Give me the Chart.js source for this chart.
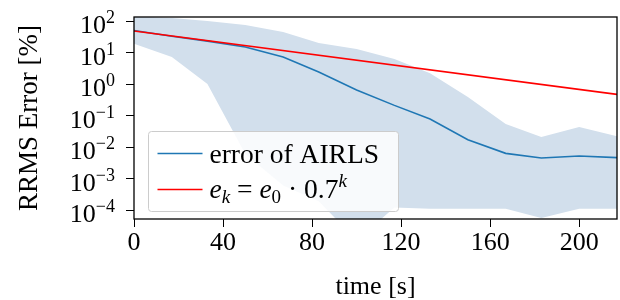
<!DOCTYPE html>
<html>
<head>
<meta charset="utf-8">
<script src="https://cdn.jsdelivr.net/npm/chart.js@4.4.0/dist/chart.umd.min.js"></script>
<style>
  html, body { margin: 0; padding: 0; background: #fff; }
  #wrap { width: 620px; height: 300px; }
</style>
</head>
<body>
<div id="wrap"><canvas id="errChart" width="620" height="300"></canvas></div>
<script>
// time steps [s]
const times = [0, 17, 33, 50, 67, 83, 100, 117, 133, 150, 167, 183, 200, 217];
// RRMS error of AIRLS [%] (mean, upper and lower envelope)
const errMean  = [50, 33, 23, 15, 7.2, 2.4, 0.65, 0.21, 0.078, 0.017, 0.0063, 0.0045, 0.0052, 0.0046];
const errUpper = [140, 125, 100, 75, 45, 20, 13, 6.2, 2.2, 0.39, 0.054, 0.021, 0.043, 0.022];
const errLower = [19, 7.2, 1.0, 0.006, 0.0006, 0.00019, 0.000011, 0.00012, 0.00011, 0.00011, 0.00011, 0.000056, 0.00011, 0.00011];
// reference rate line e_k = e0 * 0.7^k (end points)
const rateTimes = [0, 217];
const rateVals  = [48, 0.47];

const xTicks = [0, 40, 80, 120, 160, 200];
const yTicks = [1e-4, 1e-3, 1e-2, 1e-1, 1, 10, 100];
const yExps  = ['−4', '−3', '−2', '−1', '0', '1', '2'];

const FONT = "'Liberation Serif', 'Times New Roman', serif";

function pts(xs, ys) {
    return xs.map((x, i) => ({ x: x, y: ys[i] }));
}

// draw a row of text pieces (for math-like labels)
function drawRuns(ctx, x, y, runs) {
    runs.forEach(r => {
        ctx.font = (r.italic ? 'italic ' : '') + r.size + 'px ' + FONT;
        ctx.fillText(r.t, x, y + (r.dy || 0));
        x += ctx.measureText(r.t).width;
    });
}

// y tick labels as 10^n, box frame and legend
const decor = {
    id: 'decor',
    afterDatasetsDraw(chart) {
        const ctx = chart.ctx;
        const area = chart.chartArea;
        ctx.save();

        // legend box
        const lx = area.left + 14.5, ly = area.bottom - 87.5, lw = 250, lh = 80;
        ctx.beginPath();
        ctx.roundRect(lx, ly, lw, lh, 3);
        ctx.fillStyle = 'rgba(255,255,255,0.85)';
        ctx.fill();
        ctx.strokeStyle = '#cccccc';
        ctx.lineWidth = 1;
        ctx.stroke();

        const ds = chart.data.datasets;
        const rows = [ly + 22, ly + 58];
        ctx.lineWidth = 1.6;
        ctx.strokeStyle = ds[1].borderColor;
        ctx.beginPath(); ctx.moveTo(lx + 9, rows[0]); ctx.lineTo(lx + 54, rows[0]); ctx.stroke();
        ctx.strokeStyle = ds[0].borderColor;
        ctx.beginPath(); ctx.moveTo(lx + 9, rows[1]); ctx.lineTo(lx + 54, rows[1]); ctx.stroke();

        ctx.fillStyle = '#000';
        ctx.textAlign = 'left';
        ctx.textBaseline = 'alphabetic';
        ctx.font = '27.5px ' + FONT;
        ctx.fillText(ds[1].label, lx + 61, rows[0] + 9);
        drawRuns(ctx, lx + 61, rows[1] + 8, [
            { t: 'e', italic: true, size: 27.5 },
            { t: 'k', italic: true, size: 19, dy: 5 },
            { t: ' = ', size: 27.5 },
            { t: 'e', italic: true, size: 27.5 },
            { t: '0', size: 19, dy: 5 },
            { t: ' · 0.7', size: 27.5 },
            { t: 'k', italic: true, size: 19, dy: -11 }
        ]);
        ctx.restore();
    },
    afterDraw(chart) {
        const ctx = chart.ctx;
        const area = chart.chartArea;
        const ys = chart.scales.y;
        ctx.save();
        ctx.strokeStyle = '#000';
        ctx.lineWidth = 1.3;
        ctx.strokeRect(area.left, area.top, area.right - area.left, area.bottom - area.top);

        ctx.fillStyle = '#000';
        ctx.textBaseline = 'alphabetic';
        ctx.textAlign = 'left';
        yTicks.forEach((v, i) => {
            const py = ys.getPixelForValue(v);
            ctx.font = '18px ' + FONT;
            const we = ctx.measureText(yExps[i]).width;
            ctx.font = '26px ' + FONT;
            const wb = ctx.measureText('10').width;
            const right = area.left - 19;
            ctx.fillText('10', right - we - wb, py + 12);
            ctx.font = '18px ' + FONT;
            ctx.fillText(yExps[i], right - we, py + 2);
        });
        ctx.restore();
    }
};

Chart.defaults.font.family = FONT;
Chart.defaults.font.size = 26;
Chart.defaults.color = '#000';

new Chart(document.getElementById('errChart').getContext('2d'), {
    type: 'line',
    data: {
        datasets: [
            {
                label: 'e_k = e_0 · 0.7^k',
                data: pts(rateTimes, rateVals),
                borderColor: '#ff0000',
                borderWidth: 1.6,
                pointRadius: 0,
                fill: false
            },
            {
                label: 'error of AIRLS',
                data: pts(times, errMean),
                borderColor: '#1f77b4',
                borderWidth: 1.6,
                pointRadius: 0,
                fill: false
            },
            {
                label: 'upper',
                data: pts(times, errUpper),
                borderWidth: 0,
                borderColor: 'rgba(0,0,0,0)',
                backgroundColor: 'rgb(210,223,236)',
                pointRadius: 0,
                fill: '+1'
            },
            {
                label: 'lower',
                data: pts(times, errLower),
                borderWidth: 0,
                borderColor: 'rgba(0,0,0,0)',
                pointRadius: 0,
                fill: false
            }
        ]
    },
    options: {
        responsive: false,
        animation: false,
        devicePixelRatio: 1,
        layout: { padding: { top: 17, right: 3, left: 0, bottom: 0 } },
        plugins: {
            legend: { display: false },
            tooltip: { enabled: false }
        },
        scales: {
            x: {
                type: 'linear',
                min: 0,
                max: 217,
                afterBuildTicks: s => { s.ticks = xTicks.map(v => ({ value: v })); },
                afterFit: s => { s.height = 81; },
                grid: { drawOnChartArea: false, color: '#000', tickLength: 8, lineWidth: 1 },
                border: { display: false },
                ticks: { padding: 1, maxRotation: 0, autoSkip: false, callback: v => String(v) },
                title: { display: true, text: 'time [s]', font: { lineHeight: 1 }, padding: { top: 0, bottom: 0 } }
            },
            y: {
                type: 'logarithmic',
                min: 5.2e-5,
                max: 134,
                afterBuildTicks: s => { s.ticks = yTicks.map(v => ({ value: v })); },
                afterFit: s => { s.width = 134; },
                grid: { drawOnChartArea: false, color: '#000', tickLength: 8, lineWidth: 1 },
                border: { display: false },
                ticks: { display: false },
                title: { display: true, text: 'RRMS Error [%]', font: { size: 27 }, padding: { top: 14, bottom: 0 } }
            }
        }
    },
    plugins: [decor]
});
</script>
</body>
</html>
